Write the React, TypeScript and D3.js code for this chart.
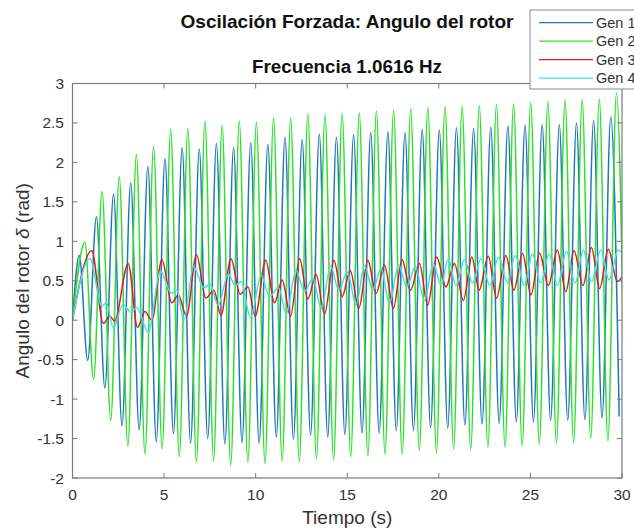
import React from "react";
import * as d3 from "d3";

// ---- data ----
const titleText = "Oscilación Forzada: Angulo del rotor";
const subtitleText = "Frecuencia 1.0616 Hz";
const xLabel = "Tiempo (s)";
const seriesNames = ["Gen 1", "Gen 2", "Gen 3", "Gen 4"];
const seriesColors = ["#2274bd", "#2ee02e", "#e01a1a", "#3ee3e3"];
const xTicks = [0, 5, 10, 15, 20, 25, 30];
const yTicks = [-2, -1.5, -1, -0.5, 0, 0.5, 1, 1.5, 2, 2.5, 3];

// spacing between successive peaks measured on the picture (s)
const peakSpacing = 0.936;

// Gen 1: successive peak and trough values (first peak at 0.37 s, first trough at 0.83 s)
const gen1FirstPeak = 0.37;
const gen1FirstTrough = 0.83;
const gen1Peaks = [0.82, 1.31, 1.6, 1.74, 1.95, 2.05, 2.19, 2.17, 2.24, 2.19, 2.25, 2.23, 2.32, 2.29, 2.36, 2.32, 2.35, 2.38, 2.39, 2.38, 2.42, 2.41, 2.44, 2.43, 2.45, 2.46, 2.47, 2.48, 2.48, 2.5, 2.53, 2.58];
const gen1Troughs = [-0.51, -0.86, -1.34, -1.39, -1.54, -1.44, -1.56, -1.5, -1.57, -1.55, -1.56, -1.48, -1.51, -1.46, -1.48, -1.45, -1.43, -1.43, -1.4, -1.4, -1.36, -1.37, -1.33, -1.32, -1.31, -1.29, -1.29, -1.27, -1.27, -1.26, -1.24, -1.22];

// Gen 2
const gen2FirstPeak = 0.68;
const gen2FirstTrough = 1.15;
const gen2Peaks = [0.99, 1.63, 1.82, 2.1, 2.2, 2.42, 2.43, 2.52, 2.47, 2.52, 2.51, 2.56, 2.56, 2.61, 2.6, 2.62, 2.63, 2.65, 2.66, 2.68, 2.7, 2.71, 2.71, 2.72, 2.73, 2.74, 2.76, 2.77, 2.79, 2.8, 2.8, 2.88];
const gen2Troughs = [-0.75, -1.27, -1.6, -1.7, -1.63, -1.73, -1.8, -1.78, -1.84, -1.8, -1.82, -1.79, -1.79, -1.76, -1.77, -1.73, -1.72, -1.7, -1.7, -1.65, -1.68, -1.63, -1.64, -1.61, -1.61, -1.59, -1.57, -1.56, -1.55, -1.5, -1.53, -1.5];

// Gen 3: turning points (time, value)
const gen3Times = [0, 1.05, 1.68, 2.04, 2.3, 3.04, 3.55, 3.95, 4.33, 4.88, 5.42, 5.78, 6.22, 6.77, 7.28, 7.72, 8.1, 8.65, 9.15, 9.58, 9.97, 10.55, 11.03, 11.45, 11.9, 12.4, 12.85, 13.3, 13.76, 14.27, 14.72, 15.16, 15.63, 16.12, 16.58, 17.03, 17.52, 17.99, 18.45, 18.94, 19.39, 19.88, 20.39, 20.85, 21.34, 21.8, 22.2, 22.7, 23.15, 23.66, 24.1, 24.57, 25.03, 25.5, 25.98, 26.47, 26.93, 27.38, 27.87, 28.33, 28.78, 29.25, 29.75, 30];
const gen3Values = [0, 0.88, -0.04, 0.05, -0.01, 0.72, -0.09, 0.11, 0.0, 0.77, 0.22, 0.32, 0.05, 0.83, 0.28, 0.38, 0.06, 0.78, 0.33, 0.42, 0.05, 0.76, 0.22, 0.51, 0.05, 0.78, 0.27, 0.58, 0.08, 0.76, 0.3, 0.63, 0.15, 0.76, 0.34, 0.7, 0.15, 0.77, 0.38, 0.72, 0.19, 0.8, 0.42, 0.72, 0.25, 0.8, 0.38, 0.81, 0.28, 0.82, 0.38, 0.85, 0.32, 0.85, 0.44, 0.89, 0.36, 0.88, 0.44, 0.92, 0.4, 0.9, 0.49, 0.55];

// Gen 4: turning points (time, value)
const gen4Times = [0, 0.95, 1.6, 1.85, 2.23, 2.75, 3.2, 3.5, 4.13, 4.8, 5.4, 5.7, 6.08, 6.6, 7.17, 7.5, 7.95, 8.5, 8.9, 9.2, 9.72, 10.3, 10.76, 11.25, 11.67, 12.2, 12.67, 13.12, 13.58, 14.09, 14.54, 15.0, 15.49, 15.94, 16.4, 16.85, 17.3, 17.81, 18.25, 18.72, 19.21, 19.7, 20.12, 20.52, 20.93, 21.4, 21.84, 22.3, 22.78, 23.26, 23.75, 24.17, 24.67, 25.11, 25.56, 26.02, 26.47, 26.97, 27.44, 27.89, 28.34, 28.84, 29.29, 29.8, 30];
const gen4Values = [0, 0.78, 0.18, 0.22, -0.1, 0.2, 0.1, 0.16, -0.15, 0.62, 0.34, 0.38, -0.01, 0.68, 0.41, 0.46, 0.19, 0.58, 0.44, 0.49, 0.03, 0.57, 0.3, 0.41, 0.08, 0.63, 0.36, 0.53, 0.15, 0.68, 0.38, 0.61, 0.19, 0.69, 0.38, 0.66, 0.21, 0.7, 0.42, 0.68, 0.25, 0.72, 0.44, 0.78, 0.44, 0.77, 0.47, 0.78, 0.44, 0.8, 0.47, 0.82, 0.44, 0.84, 0.47, 0.84, 0.44, 0.87, 0.47, 0.89, 0.49, 0.89, 0.51, 0.89, 0.85];

// ---- building point lists ----
type P = [number, number];
function fromExtrema(firstPeak: number, firstTrough: number, peaks: number[], troughs: number[]): P[] {
  const pts: P[] = [[0, 0]];
  const n = Math.max(peaks.length, troughs.length);
  for (let k = 0; k < n; k++) {
    if (k < peaks.length) pts.push([firstPeak + k * peakSpacing, peaks[k]]);
    if (k < troughs.length) pts.push([firstTrough + k * peakSpacing, troughs[k]]);
  }
  return pts.sort((a, b) => a[0] - b[0]);
}
function fromPairs(ts: number[], vs: number[]): P[] {
  return ts.map((t, i) => [t, vs[i]] as P);
}

const series: P[][] = [
  fromExtrema(gen1FirstPeak, gen1FirstTrough, gen1Peaks, gen1Troughs),
  fromExtrema(gen2FirstPeak, gen2FirstTrough, gen2Peaks, gen2Troughs),
  fromPairs(gen3Times, gen3Values),
  fromPairs(gen4Times, gen4Values),
];

// ---- layout ----
const W = 634;
const H = 531;
const left = 72.5;
const right = 622;
const top = 83.5;
const bottom = 478;
const font = "'Liberation Sans', Arial, Helvetica, sans-serif";
const axisColor = "#7a7a7a";
const textColor = "#333333";

export default function App() {
  const x = d3.scaleLinear().domain([0, 30]).range([left, right]);
  const y = d3.scaleLinear().domain([-2, 3]).range([bottom, top]);
  const line = d3
    .line<P>()
    .x((d) => x(d[0]))
    .y((d) => y(d[1]))
    .curve(d3.curveMonotoneX);

  const tickLen = 5;
  const legX = 530;
  const legY = 10;
  const legRowH = 18.5;

  return (
    <svg
      width={W}
      height={H}
      viewBox={`0 0 ${W} ${H}`}
      style={{ position: "absolute", left: 0, top: 0, background: "#fff" }}
      fontFamily={font}
    >
      <rect x={0} y={0} width={W} height={H} fill="#fff" />
      <defs>
        <clipPath id="plotClip">
          <rect x={left} y={top} width={right - left} height={bottom - top} />
        </clipPath>
      </defs>

      {/* series */}
      <g clipPath="url(#plotClip)">
        {series.map((s, i) => (
          <path key={i} d={line(s) || ""} fill="none" stroke={seriesColors[i]} strokeWidth={1.5} strokeLinejoin="round" />
        ))}
      </g>

      {/* box */}
      <rect x={left} y={top} width={right - left} height={bottom - top} fill="none" stroke={axisColor} strokeWidth={1.2} />

      {/* x ticks */}
      {xTicks.map((t) => (
        <g key={"x" + t}>
          <line x1={x(t)} x2={x(t)} y1={bottom} y2={bottom - tickLen} stroke={axisColor} />
          <line x1={x(t)} x2={x(t)} y1={top} y2={top + tickLen} stroke={axisColor} />
          <text x={x(t)} y={500} textAnchor="middle" fontSize={15.5} fill={textColor}>
            {String(t)}
          </text>
        </g>
      ))}

      {/* y ticks */}
      {yTicks.map((t) => (
        <g key={"y" + t}>
          <line x1={left} x2={left + tickLen} y1={y(t)} y2={y(t)} stroke={axisColor} />
          <line x1={right} x2={right - tickLen} y1={y(t)} y2={y(t)} stroke={axisColor} />
          <text x={64} y={y(t) + 5.5} textAnchor="end" fontSize={15.5} fill={textColor}>
            {String(t)}
          </text>
        </g>
      ))}

      {/* axis labels */}
      <text x={(left + right) / 2} y={524} textAnchor="middle" fontSize={19} fill={textColor}>
        {xLabel}
      </text>
      <text
        transform={`translate(29, ${(top + bottom) / 2}) rotate(-90)`}
        textAnchor="middle"
        fontSize={19}
        fill={textColor}
      >
        <tspan>Angulo del rotor </tspan>
        <tspan fontStyle="italic">δ</tspan>
        <tspan> (rad)</tspan>
      </text>

      {/* titles */}
      <text x={347} y={28} textAnchor="middle" fontSize={19} fontWeight="bold" fill="#111">
        {titleText}
      </text>
      <text x={347} y={73} textAnchor="middle" fontSize={18.8} fontWeight="bold" fill="#111">
        {subtitleText}
      </text>

      {/* legend */}
      <rect x={legX} y={legY} width={W - legX + 10} height={79} fill="#fff" stroke="#8a8a8a" strokeWidth={1} />
      {seriesNames.map((name, i) => {
        const ly = legY + 12.7 + i * legRowH;
        return (
          <g key={name}>
            <line x1={legX + 9} x2={legX + 63} y1={ly} y2={ly} stroke={seriesColors[i]} strokeWidth={1.3} />
            <text x={legX + 66} y={ly + 5} fontSize={14.5} fill={textColor}>
              {name}
            </text>
          </g>
        );
      })}
    </svg>
  );
}
